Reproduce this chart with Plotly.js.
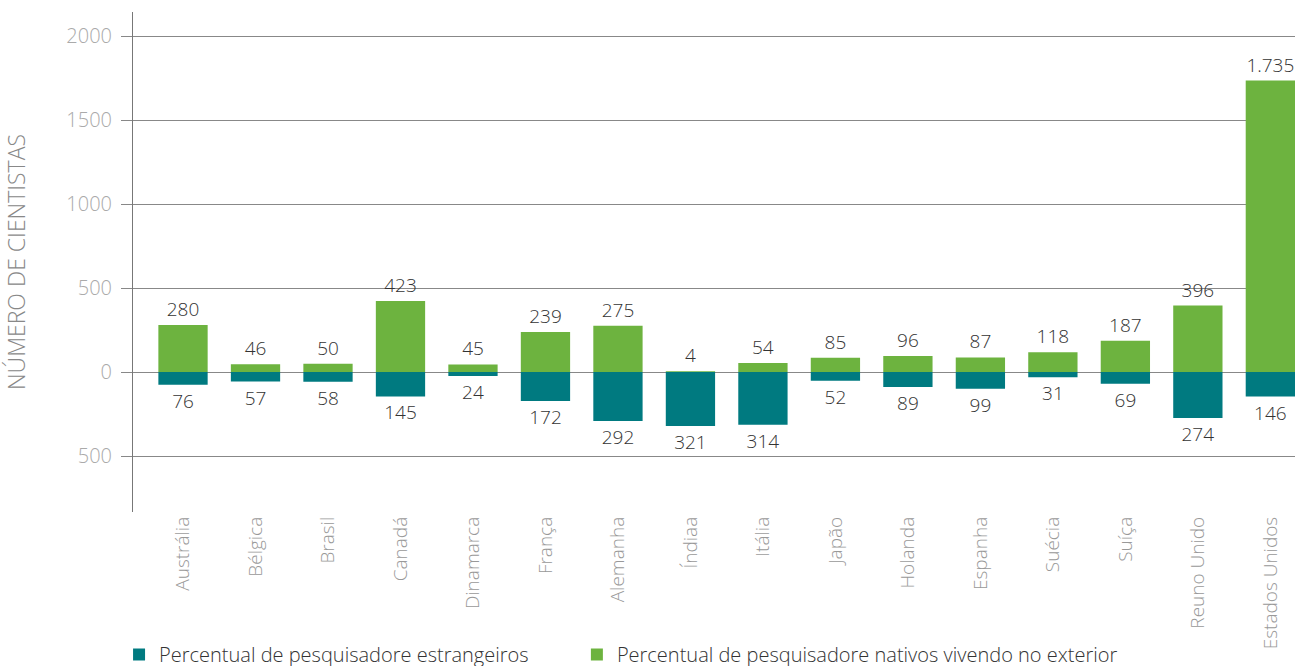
<!DOCTYPE html>
<html>
<head>
<meta charset="utf-8">
<script src="https://cdn.plot.ly/plotly-3.0.1.min.js"></script>
<style>html,body{margin:0;padding:0;background:#fff;}#chart{width:1302px;height:666px;}</style>
</head>
<body>
<div id="chart"></div>
<script>
const countries = ["Austrália","Bélgica","Brasil","Canadá","Dinamarca","França","Alemanha","Índiaa","Itália","Japão","Holanda","Espanha","Suécia","Suíça","Reuno Unido","Estados Unidos"];
const foreign = [76,57,58,145,24,172,292,321,314,52,89,99,31,69,274,146];
const nativesAbroad = [280,46,50,423,45,239,275,4,54,85,96,87,118,187,396,1735];
const yTickVals = [-500,0,500,1000,1500,2000];
const yTickText = ["500","0","500","1000","1500","2000"];

const fmt = v => v >= 1000 ? String(v).replace(/\B(?=(\d{3})+(?!\d))/g, ".") : String(v);
const FONT = "'Open Sans', 'Noto Sans', sans-serif";
const legendFont = {family: FONT, size: 20, color: "#333", weight: 300};

const traces = [
  {
    type: "bar",
    name: "Percentual de pesquisadore estrangeiros",
    legend: "legend",
    x: countries,
    y: foreign.map(v => -v),
    text: foreign.map(fmt),
    textposition: "outside",
    constraintext: "none",
    cliponaxis: false,
    textfont: {family: FONT, size: 19, color: "#333", weight: 300},
    marker: {color: "#007a80"},
    width: 0.68,
    hoverinfo: "x+text"
  },
  {
    type: "bar",
    name: "Percentual de pesquisadore nativos vivendo no exterior",
    legend: "legend2",
    x: countries,
    y: nativesAbroad,
    text: nativesAbroad.map(fmt),
    textposition: "outside",
    constraintext: "none",
    cliponaxis: false,
    textfont: {family: FONT, size: 19, color: "#333", weight: 300},
    marker: {color: "#6db33f"},
    width: 0.68,
    hoverinfo: "x+text"
  }
];

const layout = {
  width: 1302,
  height: 666,
  margin: {l: 133, r: 7, t: 12, b: 154, autoexpand: false},
  barmode: "overlay",
  paper_bgcolor: "#fff",
  plot_bgcolor: "#fff",
  font: {family: FONT, color: "#333"},
  showlegend: true,
  legend: {
    orientation: "h",
    x: -0.012,
    xanchor: "left",
    y: -0.246,
    yanchor: "top",
    font: legendFont
  },
  legend2: {
    orientation: "h",
    x: 0.382,
    xanchor: "left",
    y: -0.246,
    yanchor: "top",
    font: legendFont
  },
  xaxis: {
    type: "category",
    automargin: false,
    range: [-0.69, 15.34],
    tickangle: -90,
    tickfont: {family: FONT, size: 19, color: "#999", weight: 300},
    showgrid: false,
    showline: false,
    zeroline: false,
    ticks: ""
  },
  yaxis: {
    automargin: false,
    range: [-833, 2143],
    tickmode: "array",
    tickvals: yTickVals,
    ticktext: yTickText,
    tickfont: {family: FONT, size: 20, color: "#aaa", weight: 300},
    ticklabelstandoff: 5,
    showgrid: true,
    gridcolor: "#888",
    gridwidth: 1,
    ticks: "outside",
    ticklen: 11,
    tickcolor: "#888",
    showline: true,
    linecolor: "#777",
    linewidth: 1,
    zeroline: false,
    title: {text: "NÚMERO DE CIENTISTAS", font: {family: FONT, size: 23, color: "#888", weight: 300}, standoff: 40}
  }
};

Plotly.newPlot("chart", traces, layout, {displayModeBar: false, staticPlot: true});
</script>
</body>
</html>
